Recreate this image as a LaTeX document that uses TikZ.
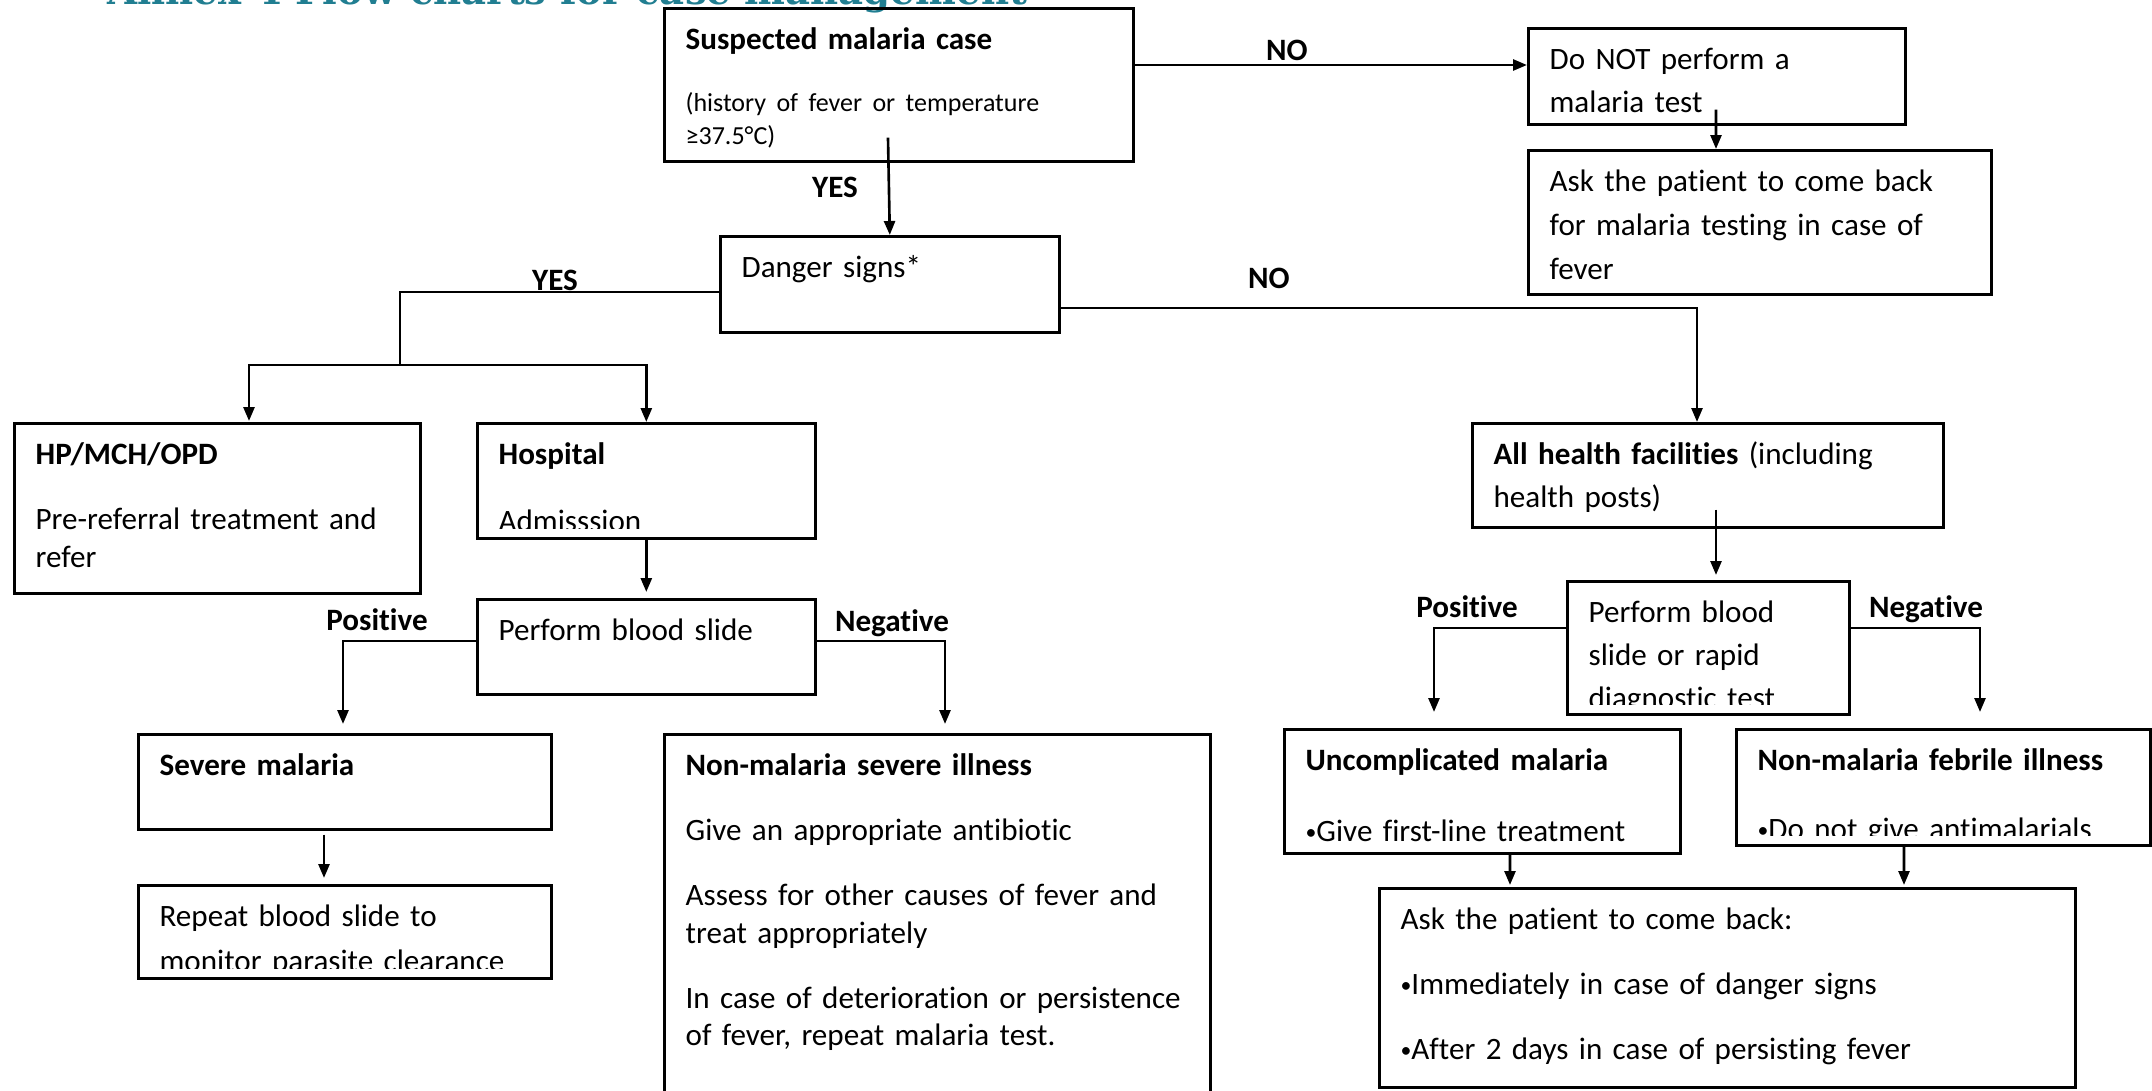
\documentclass[tikz,border=0pt]{standalone}
\usepackage{fontspec}
\setmainfont{Carlito}[Ligatures=NoCommon]
\newfontfamily\annexfont{DejaVu Serif}
\usetikzlibrary{arrows.meta}
\definecolor{annexteal}{RGB}{33,126,145}
\newcommand\topstrut{\rule{0pt}{8pt}}
\newcommand\smallbullet{\raisebox{0.15ex}{\scalebox{0.7}{•}}}

\begin{document}
\begin{tikzpicture}[
    boxtext/.style={draw=none, fill=none, anchor=north west, inner sep=0pt,
      minimum width=0pt, minimum height=0pt,
      text width=8cm, align=left, font=\fontsize{8.85}{10.7}\selectfont},
    flowbox/.style n args={4}{draw, line width=0.75pt, anchor=north west, inner sep=0pt,
      minimum width=#2cm, minimum height=#3cm,
      path picture={\clip ([yshift=0.10cm]path picture bounding box.south west)
          rectangle (path picture bounding box.north east);
        \node[boxtext] (#1-text) at ([shift={(0.2,-0.118)}]path picture bounding box.north west) {\topstrut#4};}},
    flowarrow/.style={line width=0.75pt, -{Triangle[length=1.4mm, width=1.1mm]}},
    link/.style={line width=0.75pt},
    branchlabel/.style={anchor=base, inner sep=0pt, font=\fontsize{8.85}{10.7}\selectfont\bfseries}
  ]
    \useasboundingbox (0,0) rectangle (21.52,-10.91);
    \clip (0,0) rectangle (21.52,-10.91);

    % Title (cut off at the top)
    \node[anchor=base west, inner sep=0pt, text=annexteal, font=\annexfont\bfseries\fontsize{11}{13}\selectfont]
      (title) at (1.07,-0.04) {Annex 4 Flow charts for case management};

    % Top row
    \node[flowbox={susp}{4.69}{1.53}{\textbf{Suspected malaria case}\endgraf\vspace{8.2pt}%
      {\fontsize{7.4}{9.4}\selectfont(history of fever or temperature\\≥37.5°C)\endgraf}}] (susp) at (6.63,-0.07) {};
    \node[flowbox={nottest}{3.77}{0.96}{Do NOT perform a\\[1.5pt]malaria test}] (nottest) at (15.27,-0.27) {};
    \node[flowbox={askback}{4.63}{1.44}{Ask the patient to come back\\[1.8pt]for malaria testing in case of\\[1.8pt]fever}] (askback) at (15.27,-1.49) {};
    \node[flowbox={danger}{3.39}{0.96}{Danger signs*}] (danger) at (7.19,-2.35) {};

    % Danger signs: YES
    \node[flowbox={hp}{4.06}{1.70}{\textbf{HP/MCH/OPD}\\[7.8pt]Pre-referral treatment and\\refer}] (hp) at (0.13,-4.22) {};
    \node[flowbox={hosp}{3.38}{1.15}{\textbf{Hospital}\\[8.3pt]Admisssion}] (hosp) at (4.76,-4.22) {};
    \node[flowbox={slide}{3.38}{0.95}{Perform blood slide}] (slide) at (4.76,-5.98) {};
    \node[flowbox={severe}{4.13}{0.95}{\textbf{Severe malaria}}] (severe) at (1.37,-7.33) {};
    \node[flowbox={repeatbox}{4.13}{0.93}{Repeat blood slide to\\[2.1pt]monitor parasite clearance}] (repeatbox) at (1.37,-8.84) {};
    \node[flowbox={nonsev}{5.46}{4.0}{\textbf{Non-malaria severe illness}\\[7.8pt]Give an appropriate antibiotic\\[7.8pt]Assess for other causes of fever and\\treat appropriately\\[7.8pt]In case of deterioration or persistence\\of fever, repeat malaria test.}] (nonsev) at (6.63,-7.33) {};

    % Danger signs: NO
    \node[flowbox={allhf}{4.71}{1.04}{\textbf{All health facilities} (including\\[1.5pt]health posts)}] (allhf) at (14.71,-4.22) {};
    \node[flowbox={rdt}{2.82}{1.33}{Perform blood\\[1.5pt]slide or rapid\\[1.5pt]diagnostic test}] (rdt) at (15.66,-5.80) {};
    \node[flowbox={uncomp}{3.96}{1.24}{\textbf{Uncomplicated malaria}\\[9.5pt]\smallbullet Give first-line treatment}] (uncomp) at (12.83,-7.28) {};
    \node[flowbox={nonfeb}{4.14}{1.16}{\textbf{Non-malaria febrile illness}\\[8.9pt]\smallbullet Do not give antimalarials}] (nonfeb) at (17.35,-7.28) {};
    \node[flowbox={comeback}{6.96}{1.99}{Ask the patient to come back:\\[7.8pt]\smallbullet Immediately in case of danger signs\\[7.8pt]\smallbullet After 2 days in case of persisting fever}] (comeback) at (13.78,-8.87) {};

    % Connectors
    \draw[flowarrow] ([yshift=-0.58cm]susp.north east) -- ([yshift=-0.38cm]nottest.north west);
    \draw[flowarrow] ([shift={(1.89,0.16)}]nottest.south west) -- ([xshift=1.89cm]askback.north west);
    \draw[flowarrow] ([shift={(2.25,0.25)}]susp.south west) -- (danger.north);
    \coordinate (yesfork) at (4.00,-3.65);
    \draw[link] ([yshift=-0.57cm]danger.north west) -| (yesfork);
    \draw[flowarrow] (yesfork) -| ([shift={(2.36,0.01)}]hp.north west);
    \draw[flowarrow] (yesfork) -| (hosp.north);
    \draw[flowarrow] ([yshift=-0.73cm]danger.north east) -| ([xshift=2.26cm]allhf.north west);
    \draw[flowarrow] (hosp.south) -- ([yshift=0.06cm]slide.north);
    \draw[flowarrow] ([yshift=-0.43cm]slide.north west) -| ([shift={(2.06,0.09)}]severe.north west);
    \draw[flowarrow] ([yshift=-0.43cm]slide.north east) -| ([shift={(2.82,0.09)}]nonsev.north west);
    \draw[flowarrow] ([shift={(1.87,-0.04)}]severe.south west) -- ([shift={(1.87,0.06)}]repeatbox.north west);
    \draw[flowarrow] ([shift={(2.45,0.19)}]allhf.south west) -- ([shift={(1.50,0.05)}]rdt.north west);
    \draw[flowarrow] ([yshift=-0.48cm]rdt.north west) -| ([shift={(1.51,0.16)}]uncomp.north west);
    \draw[flowarrow] ([yshift=-0.48cm]rdt.north east) -| ([shift={(2.45,0.16)}]nonfeb.north west);
    \draw[flowarrow] ([xshift=2.27cm]uncomp.south west) -- ([shift={(1.32,0.02)}]comeback.north west);
    \draw[flowarrow] ([xshift=1.69cm]nonfeb.south west) -- ([shift={(5.26,0.02)}]comeback.north west);

    % Branch labels
    \node[branchlabel] (no-top) at (12.87,-0.60) {NO};
    \node[branchlabel] (yes-top) at (8.35,-1.97) {YES};
    \node[branchlabel] (yes-danger) at (5.55,-2.90) {YES};
    \node[branchlabel] (no-danger) at (12.69,-2.88) {NO};
    \node[branchlabel] (pos-left) at (3.77,-6.30) {Positive};
    \node[branchlabel] (neg-left) at (8.92,-6.31) {Negative};
    \node[branchlabel] (pos-right) at (14.67,-6.17) {Positive};
    \node[branchlabel] (neg-right) at (19.26,-6.17) {Negative};
\end{tikzpicture}
\end{document}
